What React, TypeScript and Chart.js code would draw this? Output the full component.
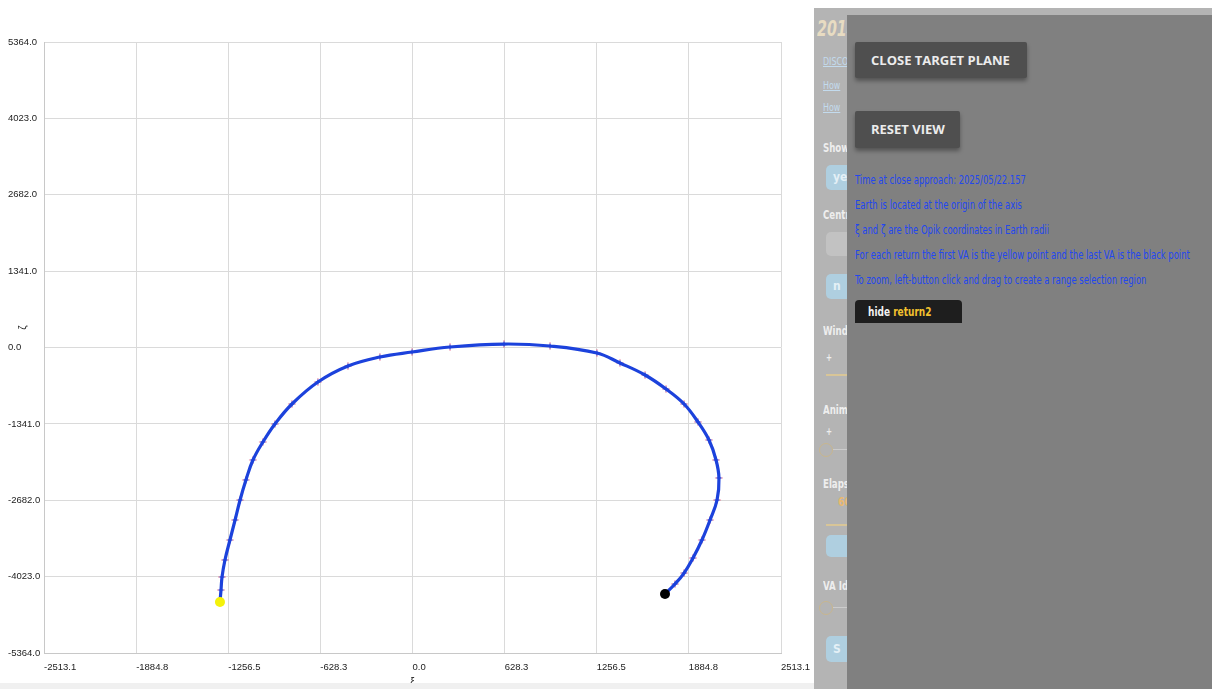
import React, { useEffect, useRef } from "react";
import { Chart, registerables } from "chart.js";

Chart.register(...registerables);

// Öpik target-plane coordinates (Earth radii)
const xiValues = [
  -1313, -1306, -1299, -1279, -1245, -1210, -1176, -1136, -1088, -1020, -938, -822,
  -645, -440, -222, -3, 256, 624, 938, 1258, 1415, 1586, 1729, 1852, 1947, 2022,
  2070, 2090, 2077, 2029, 1974, 1913, 1852, 1790, 1722,
];
const zetaValues = [
  -4468, -4258, -4030, -3731, -3380, -3029, -2678, -2326, -1975, -1659, -1343, -992,
  -606, -325, -167, -79, 9, 61, 26, -97, -272, -483, -729, -992, -1308, -1624,
  -1975, -2291, -2678, -3029, -3380, -3696, -3960, -4153, -4328,
];

const xTickValues = [-2513.1, -1884.8, -1256.5, -628.3, 0, 628.3, 1256.5, 1884.8, 2513.1];
const xTickLabels = ["-2513.1", "-1884.8", "-1256.5", "-628.3", "0.0", "628.3", "1256.5", "1884.8", "2513.1"];
const yTickValues = [-5364, -4023, -2682, -1341, 0, 1341, 2682, 4023, 5364];
const yTickLabels = ["-5364.0", "-4023.0", "-2682.0", "-1341.0", "0.0", "1341.0", "2682.0", "4023.0", "5364.0"];

const xAxisTitle = "ξ";
const yAxisTitle = "ζ";

const infoLines = [
  "Time at close approach: 2025/05/22.157",
  "Earth is located at the origin of the axis",
  "ξ and ζ are the Opik coordinates in Earth radii",
  "For each return the first VA is the yellow point and the last VA is the black point",
  "To zoom, left-button click and drag to create a range selection region",
];

const tickFont = { family: '"Liberation Sans", Arial, sans-serif', size: 9.5 };

const axisTitlePlugin = {
  id: "axisTitles",
  afterDraw(chart: any) {
    const { ctx, chartArea } = chart;
    ctx.save();
    ctx.fillStyle = "#222";
    ctx.font = '10px "Liberation Sans", Arial, sans-serif';
    ctx.textAlign = "center";
    ctx.textBaseline = "middle";
    ctx.fillText(xAxisTitle, (chartArea.left + chartArea.right) / 2, chartArea.bottom + 29);
    ctx.translate(23, (chartArea.top + chartArea.bottom) / 2 - 20);
    ctx.rotate(-Math.PI / 2);
    ctx.fillText(yAxisTitle, 0, 0);
    ctx.restore();
  },
};

function TargetPlaneChart() {
  const canvasRef = useRef<HTMLCanvasElement | null>(null);

  useEffect(() => {
    if (!canvasRef.current) return;
    const pts = xiValues.map((x, i) => ({ x, y: zetaValues[i] }));
    const first = pts[0];
    const last = pts[pts.length - 1];
    const blue = "#1c42dc";
    const chart = new Chart(canvasRef.current, {
      type: "scatter",
      data: {
        datasets: [
          {
            label: "first VA",
            data: [first],
            pointRadius: 5,
            pointBackgroundColor: "#f4f20a",
            pointBorderWidth: 0,
            showLine: false,
          },
          {
            label: "last VA",
            data: [last],
            pointRadius: 5,
            pointBackgroundColor: "#000",
            pointBorderWidth: 0,
            showLine: false,
          },
          {
            label: "return2",
            data: pts,
            showLine: true,
            borderColor: blue,
            borderWidth: 3.2,
            tension: 0.4,
            pointStyle: "cross",
            pointRadius: 2.5,
            pointBorderWidth: 1,
            pointBorderColor: blue,
          },
          {
            label: "return2 VA",
            data: pts,
            showLine: false,
            pointStyle: "cross",
            pointRadius: 4,
            pointBorderWidth: 1,
            pointBorderColor: "rgba(225,70,110,0.6)",
          },
        ],
      },
      options: {
        animation: false,
        responsive: true,
        maintainAspectRatio: false,
        layout: { padding: { left: 8, top: 42, right: 34, bottom: 0 } },
        plugins: { legend: { display: false }, tooltip: { enabled: false } },
        scales: {
          x: {
            type: "linear",
            min: xTickValues[0],
            max: xTickValues[xTickValues.length - 1],
            afterBuildTicks: (scale: any) => {
              scale.ticks = xTickValues.map((v) => ({ value: v }));
            },
            afterFit: (scale: any) => {
              scale.height = 30;
              scale.paddingRight = 0;
              scale.paddingLeft = 0;
            },
            grid: { color: "#dadada", drawTicks: false, lineWidth: 1 },
            border: { color: "#c8c8c8" },
            ticks: {
              align: "start",
              padding: 9,
              color: "#222",
              font: tickFont,
              maxRotation: 0,
              autoSkip: false,
              callback: (_v: any, i: number) => xTickLabels[i],
            },
          },
          y: {
            type: "linear",
            min: yTickValues[0],
            max: yTickValues[yTickValues.length - 1],
            afterBuildTicks: (scale: any) => {
              scale.ticks = yTickValues.map((v) => ({ value: v }));
            },
            afterFit: (scale: any) => {
              scale.width = 36;
            },
            grid: { color: "#dadada", drawTicks: false, lineWidth: 1 },
            border: { color: "#c8c8c8" },
            ticks: {
              crossAlign: "far",
              padding: 4,
              color: "#222",
              font: tickFont,
              autoSkip: false,
              callback: (_v: any, i: number) => yTickLabels[i],
            },
          },
        },
      },
      plugins: [axisTitlePlugin],
    } as any);
    return () => chart.destroy();
  }, []);

  return <canvas ref={canvasRef} />;
}

const narrow = '"DejaVu Sans Condensed", "Liberation Sans Narrow", sans-serif';

function Squeezed({ children, scale = 0.75 }: any) {
  return (
    <span style={{ display: "inline-block", transform: `scaleX(${scale})`, transformOrigin: "left center" }}>
      {children}
    </span>
  );
}

function Faded({ top, children, color = "#eeeeee", left = 9, size = 12, bold = true }: any) {
  return (
    <div
      style={{
        position: "absolute",
        left,
        top,
        color,
        fontSize: size,
        fontFamily: narrow,
        fontWeight: bold ? 700 : 400,
        whiteSpace: "nowrap",
        lineHeight: "14px",
      }}
    >
      <Squeezed scale={0.8}>{children}</Squeezed>
    </div>
  );
}

function Box({ top, height = 25, text = "", bg = "#afcfe0" }: any) {
  return (
    <div
      style={{
        position: "absolute",
        left: 12,
        top,
        width: 40,
        height,
        background: bg,
        borderRadius: 5,
        color: "#e4f0f6",
        fontFamily: narrow,
        fontSize: 12,
        fontWeight: 700,
        lineHeight: `${height}px`,
        paddingLeft: 7,
        boxSizing: "border-box",
        whiteSpace: "nowrap",
      }}
    >
      {text}
    </div>
  );
}

function Button({ top, width, height, label }: any) {
  return (
    <div
      style={{
        position: "absolute",
        left: 8,
        top,
        width,
        height,
        background: "#4f4f4f",
        borderRadius: 2,
        boxShadow: "0 3px 4px rgba(0,0,0,0.35)",
        color: "#ececec",
        fontFamily: '"Open Sans", sans-serif',
        fontWeight: 700,
        fontSize: 13,
        lineHeight: `${height}px`,
        paddingLeft: 16,
        boxSizing: "border-box",
        whiteSpace: "nowrap",
      }}
    >
      {label}
    </div>
  );
}

export default function App() {
  return (
    <div
      style={{
        position: "fixed",
        left: 0,
        top: 0,
        width: 1212,
        height: 689,
        background: "#ffffff",
        overflow: "hidden",
      }}
    >
      <div style={{ position: "absolute", left: 0, top: 683, width: 814, height: 6, background: "#f0f0f0" }} />
      <div style={{ position: "absolute", left: 0, top: 0, width: 815, height: 683 }}>
        <TargetPlaneChart />
      </div>

      {/* side panel behind the overlay */}
      <div
        style={{
          position: "absolute",
          left: 814,
          top: 8,
          width: 398,
          height: 681,
          background: "#b4b4b4",
          overflow: "hidden",
        }}
      >
        <div
          style={{
            position: "absolute",
            left: 3,
            top: 8,
            color: "#e8dcc2",
            fontFamily: narrow,
            fontStyle: "italic",
            fontWeight: 700,
            fontSize: 22,
            lineHeight: "26px",
            whiteSpace: "nowrap",
          }}
        >
          <Squeezed scale={0.72}>2014 AB</Squeezed>
        </div>
        <Faded top={47} color="#c3dbee" bold={false} size={11}>
          <span style={{ textDecoration: "underline" }}>DISCOVERY</span>
        </Faded>
        <Faded top={71} color="#c3dbee" bold={false} size={11}>
          <span style={{ textDecoration: "underline" }}>How</span>
        </Faded>
        <Faded top={93} color="#c3dbee" bold={false} size={11}>
          <span style={{ textDecoration: "underline" }}>How</span>
        </Faded>
        <Faded top={133}>Show</Faded>
        <Box top={157} text="yes" />
        <Faded top={200}>Centre</Faded>
        <Box top={224} height={24} bg="#c2c2c2" />
        <Box top={266} text="   n" />
        <Faded top={316}>Window</Faded>
        <Faded top={343} left={12} size={10}>+</Faded>
        <div style={{ position: "absolute", left: 12, top: 366, width: 40, height: 2, background: "#d8c597" }} />
        <Faded top={395}>Animation</Faded>
        <Faded top={417} left={12} size={10}>+</Faded>
        <div
          style={{
            position: "absolute",
            left: 5,
            top: 435,
            width: 12,
            height: 12,
            borderRadius: 7,
            border: "1px solid #c8b68e",
          }}
        />
        <div style={{ position: "absolute", left: 19, top: 441, width: 20, height: 1, background: "#cccccc" }} />
        <Faded top={469}>Elapsed</Faded>
        <Faded top={487} left={24} color="#e9b96f" size={13}>60</Faded>
        <div style={{ position: "absolute", left: 12, top: 516, width: 40, height: 2, background: "#d8c597" }} />
        <Box top={527} height={22} />
        <Faded top={571}>VA Id</Faded>
        <div
          style={{
            position: "absolute",
            left: 5,
            top: 593,
            width: 12,
            height: 12,
            borderRadius: 7,
            border: "1px solid #c8b68e",
          }}
        />
        <div style={{ position: "absolute", left: 19, top: 599, width: 20, height: 1, background: "#cccccc" }} />
        <Box top={628} height={26} text="    S" />
      </div>

      {/* modal overlay */}
      <div
        style={{
          position: "absolute",
          left: 847,
          top: 15,
          width: 365,
          height: 674,
          background: "#808080",
        }}
      >
        <Button top={27} width={172} height={36} label="CLOSE TARGET PLANE" />
        <Button top={96} width={105} height={37} label="RESET VIEW" />
        {infoLines.map((t, i) => (
          <div
            key={i}
            style={{
              position: "absolute",
              left: 8,
              top: 157 + i * 25,
              color: "#2247f0",
              fontFamily: narrow,
              fontSize: 12,
              lineHeight: "16px",
              whiteSpace: "nowrap",
            }}
          >
            <Squeezed scale={0.78}>{t}</Squeezed>
          </div>
        ))}
        <div
          style={{
            position: "absolute",
            left: 8,
            top: 285,
            width: 107,
            height: 23,
            background: "#1e1e1e",
            borderRadius: "4px 4px 0 0",
            fontFamily: narrow,
            fontSize: 12.5,
            fontWeight: 700,
            lineHeight: "23px",
            paddingLeft: 13,
            boxSizing: "border-box",
            whiteSpace: "nowrap",
          }}
        >
          <Squeezed scale={0.8}>
            <span style={{ color: "#f2f2f2" }}>hide </span>
            <span style={{ color: "#f2c12e" }}>return2</span>
          </Squeezed>
        </div>
      </div>
    </div>
  );
}
